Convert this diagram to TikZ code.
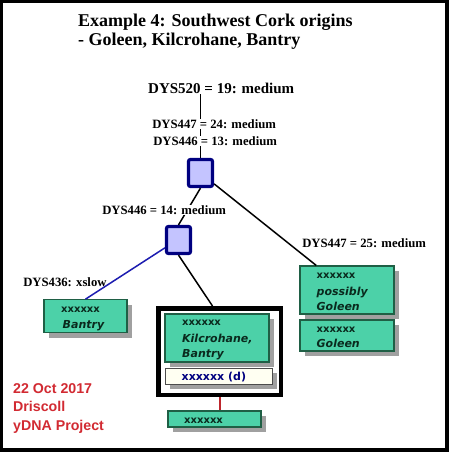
\documentclass[tikz,border=0pt]{standalone}
\usepackage{fontspec}
\setmainfont{Liberation Serif}
\newfontfamily\boxfont{DejaVu Sans}
\newfontfamily\redfont{Liberation Sans}
\usetikzlibrary{shadows}
\definecolor{navyc}{HTML}{000080}
\definecolor{lav}{HTML}{C4C4FF}
\definecolor{boxgreen}{HTML}{4CD1A8}
\definecolor{boxedge}{HTML}{1F5F45}
\definecolor{boxtext}{HTML}{0A2A1E}
\definecolor{shadowgray}{HTML}{A0A0A0}
\definecolor{cream}{HTML}{FFFFF2}
\definecolor{redtext}{HTML}{D22A32}
\definecolor{blueline}{HTML}{1C1CB0}
\tikzset{
  title/.style={anchor=base west, inner sep=0pt, font=\bfseries\fontsize{18}{20}\selectfont},
  biglabel/.style={anchor=base west, fill=white, inner sep=1pt, font=\bfseries\fontsize{15}{17}\selectfont},
  mutlabel/.style={anchor=base west, fill=white, inner sep=0.6pt, font=\bfseries\fontsize{12.7}{14}\selectfont},
  junction/.style={draw=navyc, fill=lav, line width=3.2pt, rounded corners=2pt,
    minimum width=24pt, minimum height=27pt, inner sep=0pt},
  greenbox/.style={draw=boxedge, fill=boxgreen, line width=1.1pt, inner sep=0pt,
    drop shadow={shadow xshift=5pt, shadow yshift=-5pt, opacity=1, fill=shadowgray}},
  creambox/.style={draw=black!70, fill=cream, line width=0.9pt, inner sep=0pt,
    drop shadow={shadow xshift=5pt, shadow yshift=-5pt, opacity=1, fill=shadowgray}},
  boxtxt/.style={anchor=base west, inner sep=0pt, text=boxtext, font=\boxfont\bfseries\fontsize{10}{12}\selectfont},
  boxit/.style={anchor=base west, inner sep=0pt, text=boxtext, font=\boxfont\bfseries\itshape\fontsize{11}{13}\selectfont},
  redtxt/.style={anchor=base west, inner sep=0pt, text=redtext, font=\redfont\bfseries\fontsize{14.2}{16}\selectfont},
  conn/.style={draw=black, line width=1.5pt},
}
\begin{document}
\begin{tikzpicture}[x=1pt,y=-1pt]
\useasboundingbox (0,0) rectangle (451,456);
\fill[white] (0,0) rectangle (451,456);
% outer frame
\draw[line width=4pt] (1,1) rectangle (446.5,449.5);

% titles
\node[title] (t1) at (78,26) {Example 4: Southwest Cork origins};
\node[title] (t2) at (78,45.5) {- Goleen, Kilcrohane, Bantry};

% junction squares
\node[junction] (sq1) at (200.5,173) {};
\node[junction] (sq2) at (178.5,240) {};

% boxes
\node[greenbox, minimum width=83pt, minimum height=33pt] (bantry) at (85.5,316.2) {};
\node[greenbox, minimum width=94pt, minimum height=48pt] (pgol) at (347,290) {};
\node[greenbox, minimum width=94pt, minimum height=31pt] (gol) at (347,335.5) {};
\node[draw=black, line width=4.5pt, fill=white, minimum width=122.5pt, minimum height=86.5pt, inner sep=0pt] (big) at (219.5,351.5) {};
\node[greenbox, minimum width=104pt, minimum height=48pt] (kil) at (217,338) {};
\node[creambox, minimum width=107pt, minimum height=16pt] (dbox) at (218.5,376) {};
\node[greenbox, minimum width=93pt, minimum height=16pt] (bot) at (214.5,419) {};

% top label
\node[biglabel] (d520) at (147,93) {DYS520 = 19: medium};

% connectors
\draw[conn] (sq1.north) -- (sq1.north |- d520.south);
\draw[conn] (sq1.south) -- (sq2.north);
\draw[conn] (sq1) -- (pgol);
\draw[draw=blueline, line width=1.5pt] (sq2.210) -- (bantry.north);
\draw[conn] (sq2.south) -- ([xshift=-7pt]big.north);
\draw[draw=redtext!90!black, line width=2pt] (big.south) -- (big.south |- bot.north);

% mutation labels over the lines
\node[mutlabel] (d447a) at (151.5,128) {DYS447 = 24: medium};
\node[mutlabel] (d446a) at (152.5,145) {DYS446 = 13: medium};
\node[mutlabel] (d446b) at (101.5,214) {DYS446 = 14: medium};
\node[mutlabel] (d447b) at (301.5,247) {DYS447 = 25: medium};
\node[mutlabel, fill=none] (d436) at (22.5,286) {DYS436: xslow};

% box texts
\node[boxtxt] (bx1) at (61,312.7) {xxxxxx};
\node[boxit] (bx2) at (62.5,328) {Bantry};

\node[boxtxt] (px1) at (316.5,278.5) {xxxxxx};
\node[boxit] (px2) at (316.5,295) {possibly};
\node[boxit] (px3) at (316.5,310) {Goleen};

\node[boxtxt] (gx1) at (316.5,332.7) {xxxxxx};
\node[boxit] (gx2) at (316.5,347) {Goleen};

\node[boxtxt] (kx1) at (182,325.7) {xxxxxx};
\node[boxit] (kx2) at (182,342.3) {Kilcrohane,};
\node[boxit] (kx3) at (182,357.3) {Bantry};

\node[boxtxt, text=navyc, font=\boxfont\bfseries\fontsize{11}{13}\selectfont] (dx) at (181.5,380.5) {xxxxxx (d)};
\node[boxtxt] (bt) at (184,423) {xxxxxx};

% red text
\node[redtxt] (r1) at (13,393.3) {22 Oct 2017};
\node[redtxt] (r2) at (13,411.7) {Driscoll};
\node[redtxt] (r3) at (13,430) {yDNA Project};
\end{tikzpicture}
\end{document}
